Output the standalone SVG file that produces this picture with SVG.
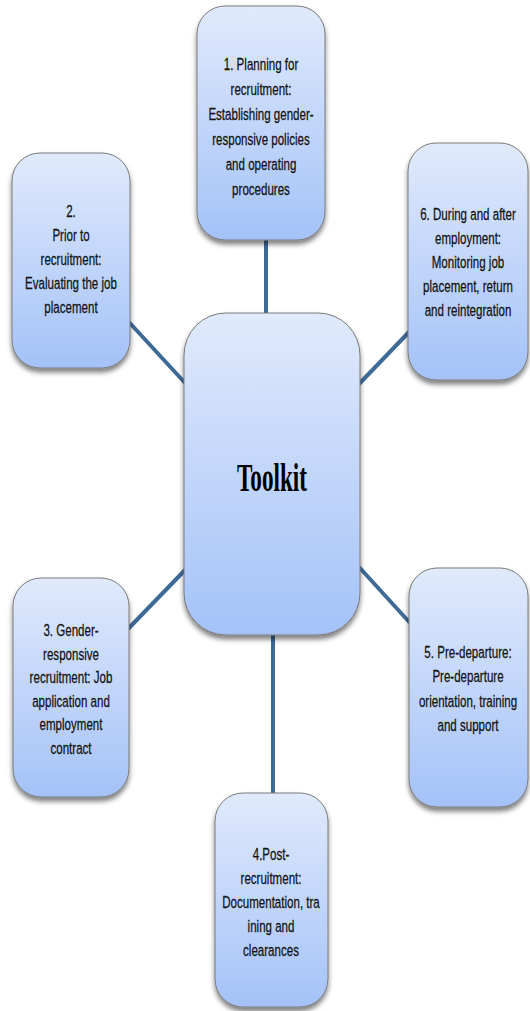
<svg xmlns="http://www.w3.org/2000/svg" width="530" height="1011" viewBox="0 0 530 1011">
<defs>
<linearGradient id="g" x1="0" y1="0" x2="0" y2="1">
<stop offset="0" stop-color="#e0eafc"/>
<stop offset="1" stop-color="#a4c2f8"/>
</linearGradient>
<filter id="sh" x="-20%" y="-20%" width="140%" height="140%">
<feDropShadow dx="0" dy="4" stdDeviation="2.5" flood-color="#000" flood-opacity="0.5"/>
</filter>
</defs>
<style>
.box{fill:url(#g);stroke:#7a7a7a;stroke-width:1;filter:url(#sh)}
.conn line{stroke:#3e6a96;stroke-width:4;fill:none}
.t{font-family:"Liberation Sans",Arial,sans-serif;font-size:17px;fill:#111;stroke:#111;stroke-width:0.25;text-anchor:middle}
.big{font-family:"Liberation Serif","Times New Roman",serif;font-size:40px;font-weight:bold;fill:#000}
</style>
<rect width="530" height="1011" fill="#fff"/>
<g id="connectors" class="conn">
<line x1="266" y1="238" x2="266" y2="315"/>
<line x1="128" y1="321" x2="186" y2="384"/>
<line x1="359" y1="384" x2="410" y2="331"/>
<line x1="128" y1="629" x2="186" y2="569"/>
<line x1="359" y1="567" x2="411" y2="624"/>
<line x1="273" y1="633" x2="273" y2="795"/>
</g>
<g id="node-center">
<rect class="box" x="184" y="313" width="176" height="322" rx="42" ry="42"/>
<text class="big" x="237" y="491" textLength="70" lengthAdjust="spacingAndGlyphs">Toolkit</text>
</g>
<g id="node-1">
<rect class="box" x="197" y="6" width="128" height="234" rx="28" ry="28"/>
<g transform="translate(261 0) scale(0.68 1)">
<text class="t" x="0" y="70">1. Planning for</text>
<text class="t" x="0" y="95">recruitment:</text>
<text class="t" x="0" y="120">Establishing gender-</text>
<text class="t" x="0" y="145">responsive policies</text>
<text class="t" x="0" y="170">and operating</text>
<text class="t" x="0" y="195">procedures</text>
</g>
</g>
<g id="node-2">
<rect class="box" x="12" y="153" width="118" height="215" rx="28" ry="28"/>
<g transform="translate(71 0) scale(0.68 1)">
<text class="t" x="0" y="217">2.</text>
<text class="t" x="0" y="241">Prior to</text>
<text class="t" x="0" y="265">recruitment:</text>
<text class="t" x="0" y="289">Evaluating the job</text>
<text class="t" x="0" y="313">placement</text>
</g>
</g>
<g id="node-6">
<rect class="box" x="408" y="143" width="120" height="237" rx="28" ry="28"/>
<g transform="translate(468 0) scale(0.68 1)">
<text class="t" x="0" y="220">6. During and after</text>
<text class="t" x="0" y="244">employment:</text>
<text class="t" x="0" y="268">Monitoring job</text>
<text class="t" x="0" y="292">placement, return</text>
<text class="t" x="0" y="316">and reintegration</text>
</g>
</g>
<g id="node-3">
<rect class="box" x="13" y="578" width="116" height="219" rx="28" ry="28"/>
<g transform="translate(71 0) scale(0.68 1)">
<text class="t" x="0" y="636">3. Gender-</text>
<text class="t" x="0" y="660">responsive</text>
<text class="t" x="0" y="683">recruitment: Job</text>
<text class="t" x="0" y="707">application and</text>
<text class="t" x="0" y="730">employment</text>
<text class="t" x="0" y="754">contract</text>
</g>
</g>
<g id="node-5">
<rect class="box" x="409" y="568" width="119" height="239" rx="28" ry="28"/>
<g transform="translate(468 0) scale(0.68 1)">
<text class="t" x="0" y="658">5. Pre-departure:</text>
<text class="t" x="0" y="682">Pre-departure</text>
<text class="t" x="0" y="707">orientation, training</text>
<text class="t" x="0" y="731">and support</text>
</g>
</g>
<g id="node-4">
<rect class="box" x="215" y="793" width="113" height="214" rx="28" ry="28"/>
<g transform="translate(271 0) scale(0.68 1)">
<text class="t" x="0" y="860">4.Post-</text>
<text class="t" x="0" y="884">recruitment:</text>
<text class="t" x="0" y="908">Documentation, tra</text>
<text class="t" x="0" y="932">ining and</text>
<text class="t" x="0" y="956">clearances</text>
</g>
</g>
</svg>
